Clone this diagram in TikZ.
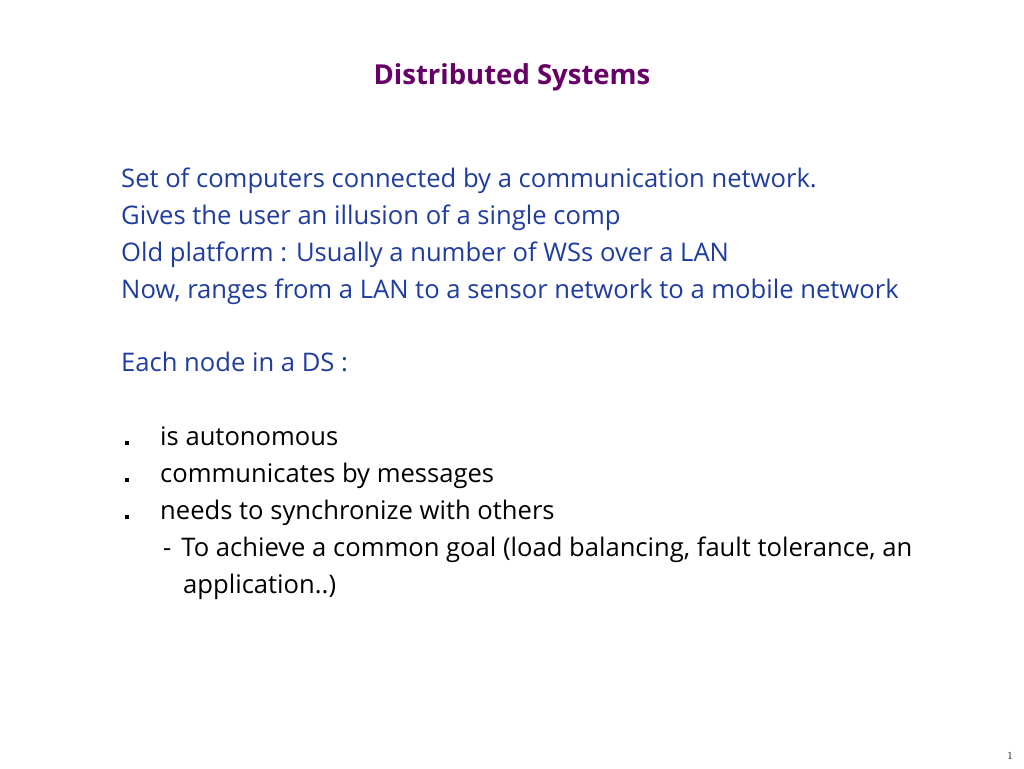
\documentclass[tikz,border=0pt]{standalone}
\usepackage{fontspec}
\setmainfont{Open Sans}
\definecolor{titlepurple}{HTML}{660066}
\definecolor{bodyblue}{HTML}{1F3CA0}
\begin{document}
\begin{tikzpicture}[x=1pt,y=-1pt,
  body/.style={anchor=base west,inner sep=0pt,font=\fontsize{25.6}{30}\selectfont},
  bluetxt/.style={body,text=bodyblue},
  blacktxt/.style={body,text=black},
  bulletsq/.style={fill=black,minimum size=4.5pt,inner sep=0pt,draw=none}]
\useasboundingbox[fill=white] (0,0) rectangle (1024,768);
\node[anchor=base,inner sep=0pt,text=titlepurple,font=\fontsize{27.5}{32}\selectfont\bfseries] (title) at (512,84) {Distributed Systems};
\node[bluetxt] (l1) at (121,187) {Set of computers connected by a communication network.};
\node[bluetxt] (l2) at (121,224) {Gives the user an illusion of a single comp};
\node[bluetxt] (l3) at (121,261) {Old platform : Usually a number of WSs over a LAN};
\node[bluetxt] (l4) at (121,298) {Now, ranges from a LAN to a sensor network to a mobile network};
\node[bluetxt] (l5) at (121,371) {Each node in a DS :};
\node[bulletsq] (b1) at (127,443) {};
\node[bulletsq] (b2) at (127,480) {};
\node[bulletsq] (b3) at (127,517) {};
\node[blacktxt] (t1) at (160,445) {is autonomous};
\node[blacktxt] (t2) at (160,482) {communicates by messages};
\node[blacktxt] (t3) at (160,519) {needs to synchronize with others};
\node[blacktxt] (t4) at (163,556) {-\hspace{10pt}To achieve a common goal (load balancing, fault tolerance, an};
\node[blacktxt] (t5) at (183,593) {application..)};
\node[anchor=base,inner sep=0pt,font=\fontfamily{lmr}\fontsize{11}{12}\selectfont] (pg) at (1010,759) {1};
\end{tikzpicture}
\end{document}
